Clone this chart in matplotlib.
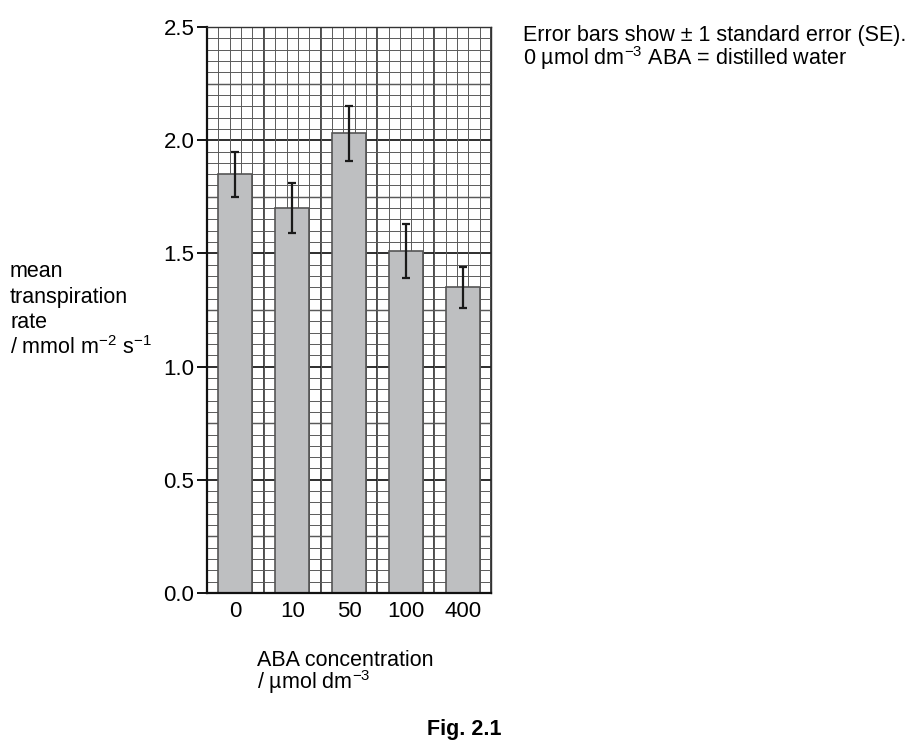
import numpy as np
import matplotlib
matplotlib.use('Agg')
from matplotlib import pyplot as plt
from matplotlib.ticker import MultipleLocator, FixedLocator

plt.rcParams['font.family'] = ['Liberation Sans', 'DejaVu Sans']
plt.rcParams['mathtext.fontset'] = 'custom'
plt.rcParams['mathtext.rm'] = 'Liberation Sans'
plt.rcParams['mathtext.it'] = 'Liberation Sans'
plt.rcParams['mathtext.default'] = 'regular'

# data
concentrations = ['0', '10', '50', '100', '400']
mean_rate = [1.85, 1.70, 2.03, 1.51, 1.35]
se_upper = [1.95, 1.81, 2.15, 1.63, 1.44]
se_lower = [1.75, 1.59, 1.91, 1.39, 1.26]

x = np.arange(len(concentrations))
err = [np.array(mean_rate) - np.array(se_lower), np.array(se_upper) - np.array(mean_rate)]

W, H = 918, 742
fig = plt.figure(figsize=(W / 100, H / 100), dpi=100)
ax = fig.add_axes([207 / W, 1 - 593 / H, 284 / W, 566 / H])

ax.set_xlim(-0.5, len(concentrations) - 0.5)
ax.set_ylim(0, 2.5)

# graph paper grid
ax.xaxis.set_minor_locator(FixedLocator(np.arange(-0.5, 4.51, 0.2)))
ax.yaxis.set_minor_locator(MultipleLocator(0.05))
ax.grid(which='minor', color='#5a5a5a', linewidth=0.7, zorder=0)
ax.vlines(np.arange(-0.5, 4.6, 1), 0, 2.5, color='#2a2a2a', linewidth=1.2, zorder=0.5)
ax.hlines(np.arange(0, 2.51, 0.5), -0.5, 4.5, color='#1e1e1e', linewidth=1.3, zorder=0.5)
ax.hlines(np.arange(0.25, 2.5, 0.5), -0.5, 4.5, color='#3c3c3c', linewidth=1.0, zorder=0.5)

ax.bar(x, mean_rate, width=0.6, color='#bebfc1', edgecolor='#555555', linewidth=1.2, zorder=2)
ax.errorbar(x, mean_rate, yerr=err, fmt='none', ecolor='#1a1a1a', elinewidth=1.6,
            capsize=3, capthick=1.6, zorder=3)

ax.set_xticks(x)
ax.set_xticklabels(concentrations)
ax.set_yticks(np.arange(0, 2.51, 0.5))
ax.set_yticklabels(['0.0', '0.5', '1.0', '1.5', '2.0', '2.5'])
ax.tick_params(axis='x', which='both', length=0, pad=6, labelsize=16)
ax.tick_params(axis='y', which='major', length=7, width=1.3, direction='out', labelsize=16, pad=2)
ax.tick_params(axis='y', which='minor', length=0)

for side in ['top', 'right']:
    ax.spines[side].set_color('#333333')
    ax.spines[side].set_linewidth(1.0)
for side in ['left', 'bottom']:
    ax.spines[side].set_color('#111111')
    ax.spines[side].set_linewidth(1.6)

fs = 15.5


def put(px, py, s, **kw):
    fig.text(px / W, 1 - py / H, s, fontsize=fs, ha='left', va='baseline', **kw)


# y label block
put(10, 277, 'mean')
put(10, 303, 'transpiration')
put(10, 328, 'rate')
put(10, 354, '/ mmol m$^{-2}$ s$^{-1}$')

# x label block (one text, two lines; baseline is the last line)
put(257, 689, 'ABA concentration\n/ \u00b5mol dm$^{-3}$', linespacing=0.88)

# note
put(523, 41, 'Error bars show \u00b1 1 standard error (SE).')
put(523, 65, '0 \u00b5mol dm$^{-3}$ ABA = distilled water')

fig.text(464 / W, 1 - 735 / H, 'Fig. 2.1', fontsize=fs, fontweight='bold',
         ha='center', va='baseline')

fig.savefig('out.png', dpi=100)
